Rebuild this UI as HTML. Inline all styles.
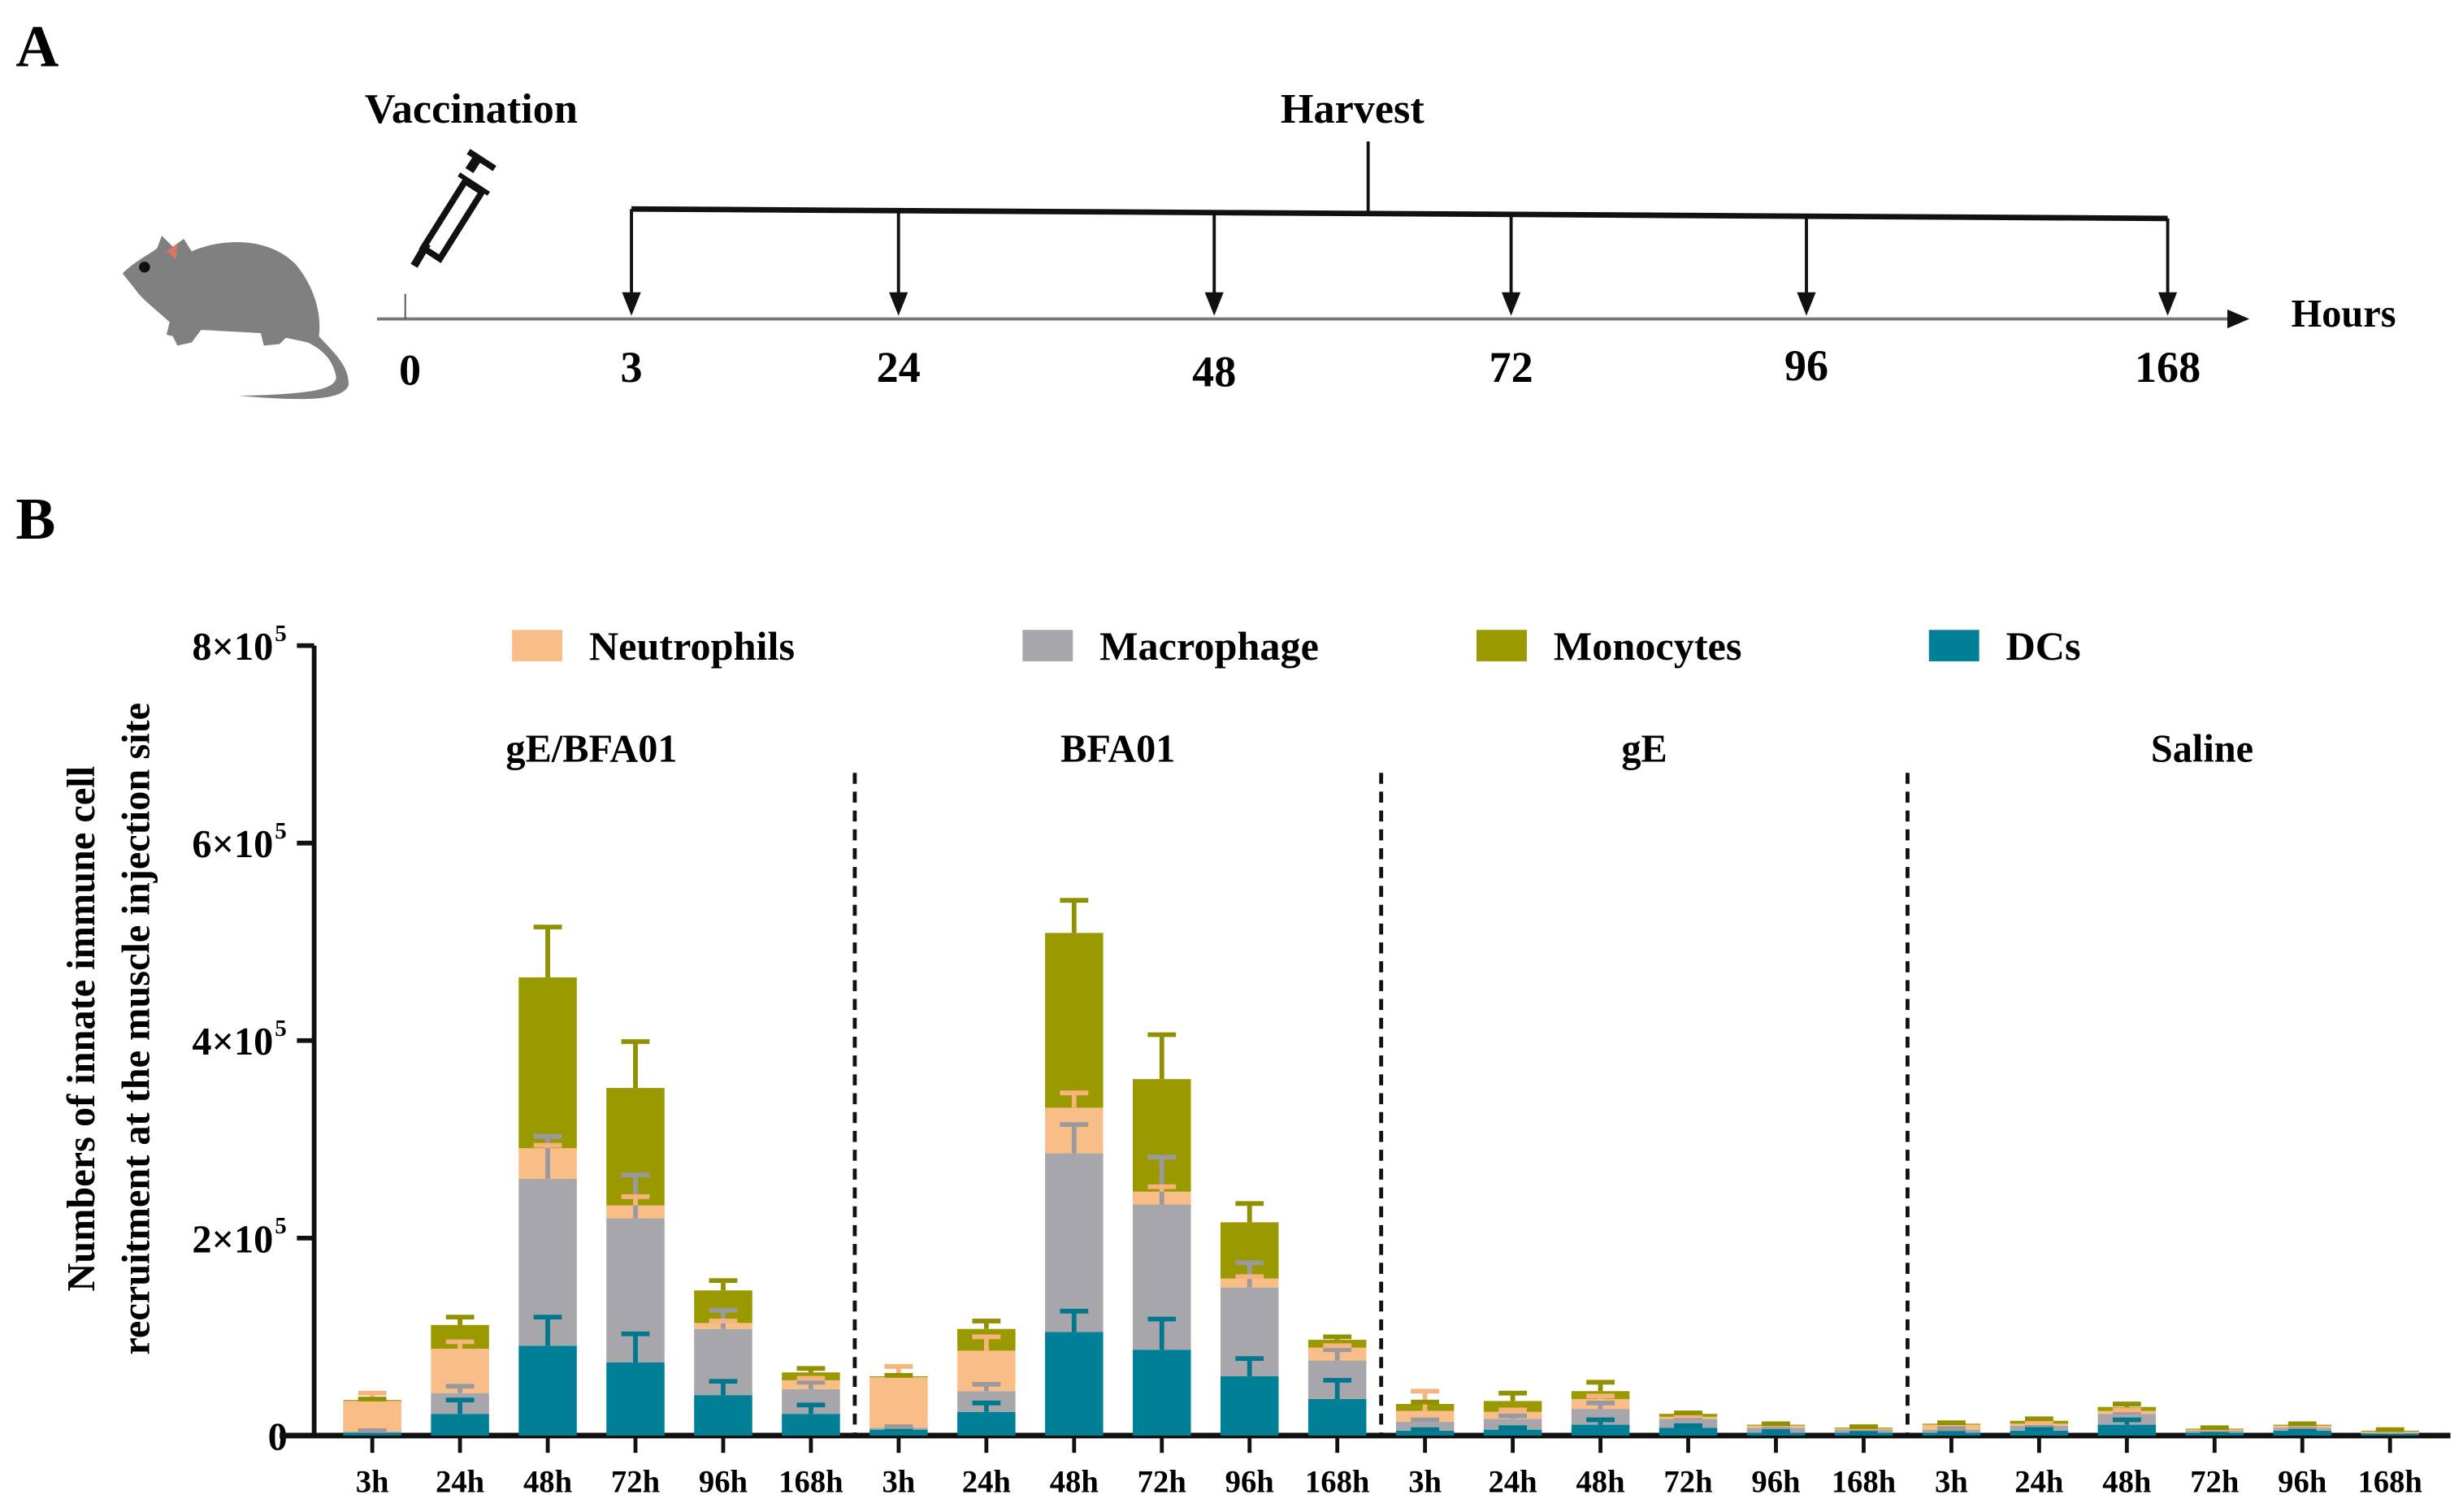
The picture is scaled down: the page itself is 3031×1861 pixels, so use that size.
<!DOCTYPE html>
<html><head><meta charset="utf-8"><style>
html,body{margin:0;padding:0;background:#fff;}
svg, svg text{font-family:"Liberation Serif","Times New Roman",Times,"DejaVu Serif",serif;font-weight:bold;}
</style></head><body>
<svg id="fig" width="3031" height="1856" viewBox="0 0 1568 960" xmlns="http://www.w3.org/2000/svg" font-family="Liberation Serif, Times New Roman, serif" font-weight="bold">
<rect width="1568" height="960" fill="#fff"/>
<g>
<text x="10" y="42" font-size="38">A</text>
<text x="300" y="78" font-size="27" text-anchor="middle">Vaccination</text>
<text x="861" y="78" font-size="27" text-anchor="middle">Harvest</text>
<g>
<path d="M78,174 C86,166 95,162 100,158 L103,150 L110,157 L117,152 L122,160 C140,152 170,150 188,168 C200,182 205,200 203,214 C212,224 222,232 222,245 C218,256 190,255 152,252 C185,251 214,250 214,240 C212,228 204,222 196,218 L182,215 L178,219 L168,220 L166,212 L128,210 L122,218 L113,220 L110,214 L106,213 L108,205 C98,196 90,190 86,184 Z" fill="#808080"/>
<path d="M106,160 L113,155 L112,165 Z" fill="#d9775f"/>
<circle cx="92" cy="170" r="3.5" fill="#111"/>
</g>
<g stroke="#111" fill="none" transform="rotate(-12 285 135)">
<line x1="257" y1="164" x2="268" y2="152" stroke-width="5"/>
<path d="M265,154 L300,118 L309,127 L274,163 Z" stroke-width="4"/>
<line x1="304" y1="112" x2="312" y2="104" stroke-width="6"/>
<line x1="297" y1="113" x2="313" y2="129" stroke-width="3"/>
<line x1="306" y1="100" x2="320" y2="114" stroke-width="4"/>
</g>
<line x1="240" y1="203" x2="1422" y2="203" stroke="#777" stroke-width="2"/>
<path d="M1418,197 L1432,203 L1418,209 Z" fill="#111"/>
<line x1="258" y1="187" x2="258" y2="203" stroke="#555" stroke-width="1"/>
<text x="1492" y="208" font-size="25" text-anchor="middle">Hours</text>
<line x1="402" y1="133" x2="1380" y2="139" stroke="#111" stroke-width="3.5"/>
<line x1="871" y1="90" x2="871" y2="136" stroke="#111" stroke-width="2"/>
<g id="arrows"></g>
<g id="tlabels"></g>
</g>
<text x="10" y="343" font-size="38">B</text>
<g id="chart"></g>
</svg>
<script>
const tlHours=["0","3","24","48","72","96","168"];
const tlX=[261,402,572,773,962,1150,1380];
const tlY=[245,243,243,246,243,242,243];
const timepoints=["3h","24h","48h","72h","96h","168h"];
const groups=["gE/BFA01","BFA01","gE","Saline"];
const seriesNames=["DCs","Macrophage","Neutrophils","Monocytes"];
const dcs=[0.03,0.22,0.91,0.74,0.41,0.22, 0.06,0.24,1.05,0.87,0.60,0.37, 0.05,0.06,0.11,0.08,0.03,0.03, 0.03,0.05,0.11,0.03,0.05,0.02];
const macrophage=[0.01,0.21,1.69,1.46,0.67,0.25, 0.02,0.21,1.81,1.47,0.90,0.39, 0.09,0.11,0.16,0.09,0.05,0.03, 0.03,0.05,0.11,0.02,0.03,0.01];
const neutrophils=[0.31,0.45,0.31,0.13,0.06,0.09, 0.51,0.41,0.46,0.13,0.09,0.13, 0.11,0.07,0.10,0.02,0.02,0.01, 0.05,0.02,0.03,0.01,0.02,0.01];
const monocytes=[0.01,0.24,1.73,1.19,0.33,0.08, 0.01,0.22,1.77,1.14,0.57,0.08, 0.07,0.11,0.08,0.03,0.01,0.01, 0.01,0.03,0.04,0.01,0.01,0.01];
const errDcs=[0.01,0.14,0.29,0.29,0.14,0.09, 0.01,0.09,0.21,0.31,0.18,0.19, 0.01,0.02,0.05,0.02,0.01,0.01, 0.01,0.02,0.05,0.01,0.02,0.01];
const errMac=[0.01,0.07,0.43,0.44,0.19,0.07, 0.01,0.07,0.29,0.48,0.25,0.11, 0.02,0.03,0.06,0.02,0.01,0.01, 0.01,0.01,0.02,0.01,0.01,0.01];
const errNeut=[0.08,0.07,0.03,0.09,0.02,0.02, 0.11,0.14,0.15,0.05,0.02,0.02, 0.20,0.02,0.03,0.01,0.01,0.01, 0.01,0.01,0.01,0.01,0.01,0.01];
const errMono=[0.01,0.08,0.51,0.47,0.10,0.04, 0.01,0.08,0.33,0.45,0.19,0.03, 0.02,0.08,0.09,0.01,0.01,0.01, 0.01,0.02,0.03,0.01,0.01,0.01];
const yTicks=[0,2,4,6,8];
const yTickLabels=["0","2×10","4×10","6×10","8×10"];

const NS="http://www.w3.org/2000/svg";
function mk(tag,attrs,parent){const e=document.createElementNS(NS,tag);for(const k in attrs)e.setAttribute(k,attrs[k]);parent.appendChild(e);return e;}

const arrows=document.getElementById('arrows');
for(let i=1;i<tlX.length;i++){
  const yTop=133+(tlX[i]-402)*6/978;
  const l=mk('line',{x1:tlX[i],y1:yTop,x2:tlX[i],y2:190,stroke:'#111','stroke-width':2},arrows);
  
  
  const p=mk('path',{d:`M${tlX[i]-6},186 L${tlX[i]},201 L${tlX[i]+6},186 Z`,fill:'#111'},arrows);
  
  
}
const tl=document.getElementById('tlabels');
tlHours.forEach((h,i)=>{
  const t=mk('text',{x:tlX[i],y:tlY[i],'font-size':28,'text-anchor':'middle'},tl);
  t.textContent=h;
  
  
});

const chart=document.getElementById('chart');
const y0=914, pxPer=62.875;
const yScale=v=>y0-v*pxPer;
const x0=237, step=55.85;
const xScale=i=>x0+i*step;
const barW=37;
const colors=["#007f96","#a7a6ab","#f9bd87","#9b9900"];
const errColors=["#00778c","#9a99a0","#f6b47c","#909000"];

const yAxis=mk('g',{},chart);


mk('line',{x1:200,y1:yScale(8),x2:200,y2:y0+1,stroke:'#111','stroke-width':3},yAxis);
yTicks.forEach((v,i)=>{
  mk('line',{x1:189,y1:yScale(v),x2:200,y2:yScale(v),stroke:'#111','stroke-width':3},yAxis);
  const t=mk('text',{x:v===0?183:174,y:yScale(v)+9,'font-size':25,'text-anchor':'end'},yAxis);
  t.textContent=yTickLabels[i];
  
  
  if(v!==0){const s=mk('text',{x:175,y:yScale(v)-3,'font-size':15},yAxis);s.textContent='5';}
});
const yt=mk('text',{transform:'translate(60,655) rotate(-90)','font-size':25,'text-anchor':'middle'},chart);
yt.textContent='Numbers of innate immune cell';


const yt2=mk('text',{transform:'translate(95,655) rotate(-90)','font-size':25,'text-anchor':'middle'},chart);
yt2.textContent='recruitment at the muscle injection site';



const xAxis=mk('g',{},chart);


mk('line',{x1:178,y1:y0,x2:1560,y2:y0,stroke:'#111','stroke-width':3.5},xAxis);
const nBars=dcs.length;
for(let i=0;i<nBars;i++){
  mk('line',{x1:xScale(i),y1:y0,x2:xScale(i),y2:y0+11,stroke:'#111','stroke-width':2.5},xAxis);
  const t=mk('text',{x:xScale(i),y:y0+36,'font-size':20,'text-anchor':'middle'},xAxis);
  t.textContent=timepoints[i%timepoints.length];
  
  
}
const gs=timepoints.length;
groups.forEach((g,gi)=>{
  const cx=(xScale(gi*gs)+xScale(gi*gs+gs-1))/2+(gi===3?20:0);
  const t=mk('text',{x:cx,y:485,'font-size':25,'text-anchor':'middle'},chart);
  t.textContent=g;
  
  
  if(gi>0){
    const xs=(xScale(gi*gs-1)+xScale(gi*gs))/2;
    const l=mk('line',{x1:xs,y1:492,x2:xs,y2:y0,stroke:'#111','stroke-width':2.5,'stroke-dasharray':'7,5'},chart);
    
    
  }
});
const series=[dcs,macrophage,neutrophils,monocytes];
const errs=[errDcs,errMac,errNeut,errMono];
const barsG=mk('g',{},chart);


const errG=mk('g',{},chart);
for(let i=0;i<nBars;i++){
  let cum=0;
  series.forEach((s,si)=>{
    const v=s[i];
    const r=mk('rect',{x:xScale(i)-barW/2,y:yScale(cum+v),width:barW,height:v*pxPer,fill:colors[si]},barsG);
    
    
    cum+=v;
    const top=yScale(cum), et=yScale(cum+errs[si][i]);
    const e=mk('path',{d:`M${xScale(i)},${top} L${xScale(i)},${et} M${xScale(i)-9},${et} L${xScale(i)+9},${et}`,stroke:errColors[si],'stroke-width':3,fill:'none'},errG);
    
    
  });
}
const legX=[326,651,940,1228];
const legColors=[colors[2],colors[1],colors[3],colors[0]];
const legNames=["Neutrophils","Macrophage","Monocytes","DCs"];
legNames.forEach((n,i)=>{
  const g=mk('g',{},chart);
  
  
  mk('rect',{x:legX[i],y:401,width:32,height:20,fill:legColors[i]},g);
  const t=mk('text',{x:legX[i]+49,y:420,'font-size':26},g);
  t.textContent=n;
});
</script>
</body></html>
